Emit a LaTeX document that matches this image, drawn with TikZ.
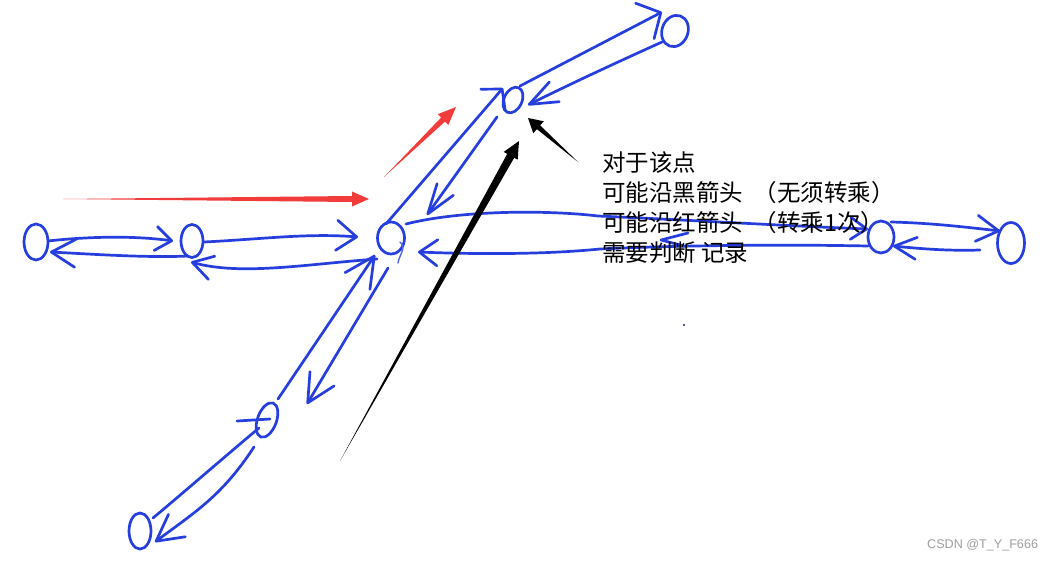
\documentclass[tikz,border=0pt]{standalone}
\usepackage{fontspec}
\newfontfamily\cjk{Noto Sans CJK SC}
\newfontfamily\wmfont{Liberation Sans}
\usetikzlibrary{shapes.geometric,arrows.meta,calc}
\definecolor{penblue}{RGB}{38,62,222}
\definecolor{redpen}{RGB}{242,60,60}
\newcommand\taperarrow[6]{%
  \path ($(#2)!#3!(#1)$) coordinate (tb);
  \fill[#6] (#1) -- ($(tb)!#5!90:(#2)$) -- ($(tb)!#4!90:(#2)$) -- (#2)
    -- ($(tb)!#4!-90:(#2)$) -- ($(tb)!#5!-90:(#2)$) -- cycle;
}
\tikzset{
  pen/.style={draw=penblue, line width=2.7pt, line cap=round, line join=round},
  thinpen/.style={draw=penblue!80, line width=1.4pt, line cap=round},
  hnode/.style={ellipse, draw=penblue, line width=2.7pt, inner sep=0pt},
  barb/.style 2 args={-{Straight Barb[round,length=#1,width=#2]}},
  txt/.style={font=\fontsize{23.5}{28}\selectfont\cjk, anchor=base west, inner sep=0pt, text=black},
}
\begin{document}
\begin{tikzpicture}[x=1pt,y=-1pt]
\fill[white] (0,0) rectangle (1053,560);
\useasboundingbox (0,0) rectangle (1053,560);

% nodes
\node[hnode, minimum width=24, minimum height=36] (A) at (36,242) {};
\node[hnode, minimum width=22, minimum height=33] (B) at (192,241) {};
\node[hnode, minimum width=27, minimum height=32] (C) at (391,238) {};
\node[hnode, minimum width=18, minimum height=27, rotate=-25] (D) at (513,100) {};
\node[hnode, minimum width=26, minimum height=32, rotate=-20] (E) at (675,31) {};
\node[hnode, minimum width=26, minimum height=32] (F) at (881,237) {};
\node[hnode, minimum width=27, minimum height=41] (G) at (1011,243) {};
\node[hnode, minimum width=19, minimum height=36, rotate=-20] (H) at (267,420) {};
\node[hnode, minimum width=22, minimum height=36] (I) at (140,531) {};

% left chain
\draw[pen, barb={16pt}{24pt}] ($(A)+(12,-1)$) .. controls +(45,-5) and +(-35,-5) .. ($(B)+(-19,0)$);
\draw[pen, barb={24pt}{28pt}] ($(B)+(-4,15)$) .. controls +(-40,2) and +(40,2) .. ($(A)+(14,10)$);
\draw[pen, barb={20pt}{30pt}] ($(B)+(12,1)$) .. controls +(60,-3) and +(-50,-4) .. ($(C)+(-33,-1)$);
\draw[pen, barb={20pt}{24pt}] ($(C)+(-14,21)$) .. controls +(-70,5) and +(50,14) .. ($(B)+(-1,21)$);

% C - F
\draw[pen, barb={16pt}{22pt}] ($(C)+(15,-14)$) .. controls +(55,-14) and +(-50,-6) .. (598,216)
   .. controls +(90,4) and +(-80,-3) .. ($(F)+(-13,-8)$);
\draw[pen, barb={18pt}{26pt}] ($(F)+(-13,9)$) .. controls +(-100,-2) and +(60,-3) .. (600,249)
   .. controls +(-60,6) and +(50,2) .. ($(C)+(27,14)$);
\draw[pen] (688,233) -- (661,240) -- (684,246);

% F - G
\draw[pen, barb={22pt}{26pt}] ($(F)+(10,-15)$) .. controls +(40,1) and +(-35,-4) .. ($(G)+(-11,-12)$);
\draw[pen, barb={22pt}{22pt}] ($(G)+(-31,7)$) .. controls +(-30,1) and +(30,3) .. ($(F)+(12,9)$);

% C - D - E
\draw[pen, barb={14pt}{32pt}] ($(C)+(-5,-14)$) -- ($(D)+(-10,-12)$);
\draw[pen, barb={30pt}{20pt}] ($(D)+(-16,17)$) -- ($(C)+(36,-23)$);
\draw[pen, barb={18pt}{40pt}] ($(D)+(7,-14)$) -- ($(E)+(-13,-19)$);
\draw[pen, barb={28pt}{22pt}] ($(E)+(-13,11)$) .. controls +(-40,18) and +(40,-20) .. ($(D)+(15,5)$);

% C - H - I
\draw[pen, barb={30pt}{30pt}] ($(H)+(11,-21)$) -- ($(C)+(-16,17)$);
\draw[pen, barb={28pt}{28pt}] ($(C)+(-3,30)$) -- ($(H)+(40,-16)$);
\draw[pen] ($(I)+(13,-13)$) .. controls +(30,-25) and +(-30,25) .. ($(H)+(-8,8)$);
\draw[pen] ($(H)+(-30,1)$) -- ($(H)+(3,-1)$);
\draw[pen, barb={26pt}{28pt}] ($(H)+(-13,27)$) .. controls +(-32,49) and +(40,-30) .. ($(I)+(15,11)$);

% small marks near C
\draw[thinpen] ($(C)+(9,4)$) .. controls +(7,6) and +(1,-8) .. ($(C)+(7,25)$);
\fill[black!50!penblue] (684,325) circle (1.2);

% red arrows
\coordinate (r1s) at (63,199);
\coordinate (r1t) at (369,199);
\coordinate (r2s) at (384,177);
\coordinate (r2t) at (456,107);
\taperarrow{r1s}{r1t}{17pt}{7.5pt}{3pt}{redpen}
\taperarrow{r2s}{r2t}{18pt}{7.5pt}{2.8pt}{redpen}

% black arrows
\coordinate (k1s) at (340,461);
\coordinate (k1t) at (519,141);
\coordinate (k2s) at (578,162);
\coordinate (k2t) at (528,118);
\taperarrow{k1s}{k1t}{17pt}{8pt}{4pt}{black}
\taperarrow{k2s}{k2t}{14pt}{8pt}{2.5pt}{black}

% text
\node[txt] (t1) at (602,171.5) {对于该点};
\node[txt] (t2) at (602,201.5) {可能沿黑箭头\ \ （无须转乘）};
\node[txt] (t3) at (602,231.5) {可能沿红箭头\ \ （转乘1次）};
\node[txt] (t4) at (602,261.5) {需要判断 记录};

\node[font=\fontsize{12.6}{14}\selectfont\wmfont, text=black!38, anchor=base west, inner sep=0pt] (wm) at (927,548) {CSDN @T\_Y\_F666};
\end{tikzpicture}
\end{document}
